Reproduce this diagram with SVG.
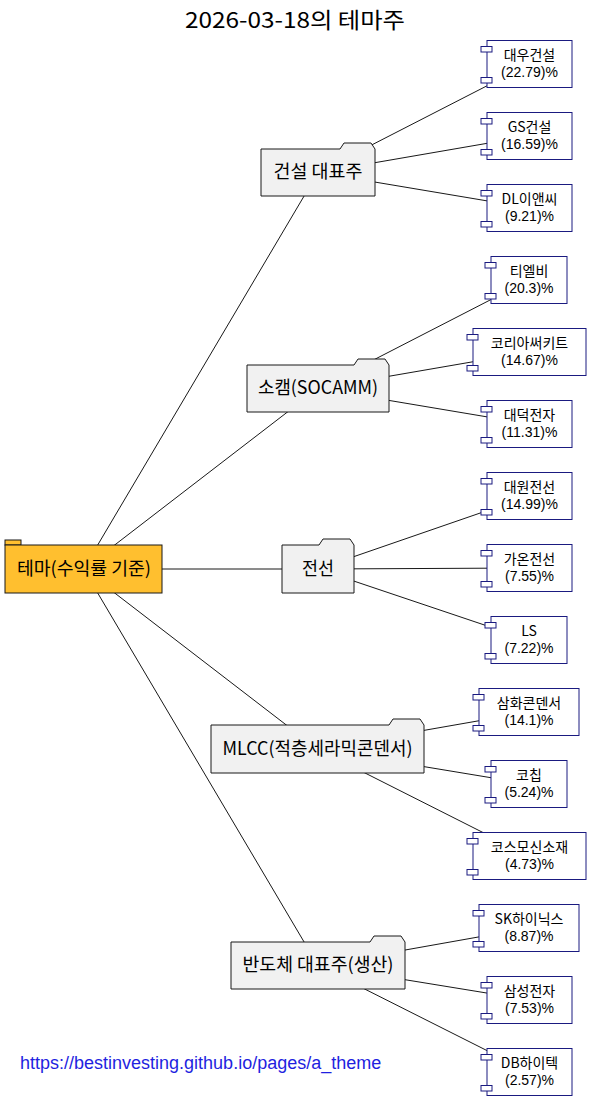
<svg xmlns="http://www.w3.org/2000/svg" width="591" height="1103" viewBox="0 0 591 1103">
<style>
.bg{fill:#FFFFFF}
.edge{stroke:#181818;stroke-width:1;fill:none}
.folder{fill:#F1F1F1;stroke:#181818;stroke-width:1}
.root{fill:#FFBF2F;stroke:#181818;stroke-width:1}
.leaf{fill:#FFFFFF;stroke:#1A1A80;stroke-width:1}
.t{font-family:"Noto Sans CJK KR","Noto Sans",sans-serif;fill:#000000;text-anchor:middle}
.ft{font-size:18px}
.lt{font-size:14px}
.pt{font-family:"Liberation Sans",Arial,sans-serif;font-size:14px;fill:#000000;text-anchor:middle}
.url{font-family:"Liberation Sans",Arial,sans-serif;font-size:18px;fill:#1F1FE0}
</style>
<rect class="bg" x="0" y="0" width="591" height="1103"/>
<text class="t" x="295" y="28" font-size="22" textLength="220" lengthAdjust="spacingAndGlyphs">2026-03-18의 테마주</text>
<g id="connectors">
<line class="edge" x1="83.5" y1="569" x2="318" y2="172.5"/>
<line class="edge" x1="83.5" y1="569" x2="318" y2="388.5"/>
<line class="edge" x1="83.5" y1="569" x2="318" y2="569"/>
<line class="edge" x1="83.5" y1="569" x2="317.5" y2="749"/>
<line class="edge" x1="83.5" y1="569" x2="318" y2="965.5"/>
<line class="edge" x1="318" y1="172.5" x2="529.5" y2="64"/>
<line class="edge" x1="318" y1="172.5" x2="529.5" y2="136"/>
<line class="edge" x1="318" y1="172.5" x2="529.5" y2="208"/>
<line class="edge" x1="318" y1="388.5" x2="529" y2="280"/>
<line class="edge" x1="318" y1="388.5" x2="529.5" y2="352"/>
<line class="edge" x1="318" y1="388.5" x2="529.5" y2="424"/>
<line class="edge" x1="318" y1="569" x2="529.5" y2="496"/>
<line class="edge" x1="318" y1="569" x2="529.5" y2="568"/>
<line class="edge" x1="318" y1="569" x2="529" y2="640"/>
<line class="edge" x1="317.5" y1="749" x2="529" y2="712"/>
<line class="edge" x1="317.5" y1="749" x2="529" y2="784"/>
<line class="edge" x1="317.5" y1="749" x2="529.5" y2="856"/>
<line class="edge" x1="318" y1="965.5" x2="529" y2="928"/>
<line class="edge" x1="318" y1="965.5" x2="529.5" y2="1000"/>
<line class="edge" x1="318" y1="965.5" x2="529.5" y2="1072"/>
</g>
<g id="root">
<rect class="root" x="5" y="540" width="16" height="5"/>
<rect class="root" x="5" y="545" width="157" height="48"/>
<text class="t ft" x="84" y="575" textLength="134" lengthAdjust="spacingAndGlyphs">테마(수익률 기준)</text>
</g>
<g id="f1">
<path class="folder" d="M261 149 L340 149 L344 143 L371 143 L375 149 L375 196 L261 196 Z"/>
<text class="t ft" x="318" y="178" textLength="89" lengthAdjust="spacingAndGlyphs">건설 대표주</text>
</g>
<g id="f2">
<path class="folder" d="M247 365 L354 365 L358 359 L385 359 L389 365 L389 412 L247 412 Z"/>
<text class="t ft" x="318" y="394" textLength="120" lengthAdjust="spacingAndGlyphs">소캠(SOCAMM)</text>
</g>
<g id="f3">
<path class="folder" d="M282 545 L319 545 L323 539 L350 539 L354 545 L354 593 L282 593 Z"/>
<text class="t ft" x="318" y="575" textLength="32" lengthAdjust="spacingAndGlyphs">전선</text>
</g>
<g id="f4">
<path class="folder" d="M211 725 L389 725 L393 719 L420 719 L424 725 L424 773 L211 773 Z"/>
<text class="t ft" x="317.5" y="755" textLength="190" lengthAdjust="spacingAndGlyphs">MLCC(적층세라믹콘덴서)</text>
</g>
<g id="f5">
<path class="folder" d="M231 942 L370 942 L374 936 L401 936 L405 942 L405 989 L231 989 Z"/>
<text class="t ft" x="318" y="971" textLength="151" lengthAdjust="spacingAndGlyphs">반도체 대표주(생산)</text>
</g>
<g id="l1"><rect class="leaf" x="487" y="40.5" width="85" height="47"/><rect class="leaf" x="481" y="46.5" width="11" height="5.5"/><rect class="leaf" x="481" y="77.5" width="11" height="5.5"/><text class="t lt" x="529.5" y="60">대우건설</text><text class="pt" x="529.5" y="77">(22.79)%</text></g>
<g id="l2"><rect class="leaf" x="487" y="112.5" width="85" height="47"/><rect class="leaf" x="481" y="118.5" width="11" height="5.5"/><rect class="leaf" x="481" y="149.5" width="11" height="5.5"/><text class="t lt" x="529.5" y="132">GS건설</text><text class="pt" x="529.5" y="149">(16.59)%</text></g>
<g id="l3"><rect class="leaf" x="487" y="184.5" width="85" height="47"/><rect class="leaf" x="481" y="190.5" width="11" height="5.5"/><rect class="leaf" x="481" y="221.5" width="11" height="5.5"/><text class="t lt" x="529.5" y="204">DL이앤씨</text><text class="pt" x="529.5" y="221">(9.21)%</text></g>
<g id="l4"><rect class="leaf" x="491" y="256.5" width="76" height="47"/><rect class="leaf" x="485" y="262.5" width="11" height="5.5"/><rect class="leaf" x="485" y="293.5" width="11" height="5.5"/><text class="t lt" x="529" y="276">티엘비</text><text class="pt" x="529" y="293">(20.3)%</text></g>
<g id="l5"><rect class="leaf" x="473" y="328.5" width="113" height="47"/><rect class="leaf" x="467" y="334.5" width="11" height="5.5"/><rect class="leaf" x="467" y="365.5" width="11" height="5.5"/><text class="t lt" x="529.5" y="348">코리아써키트</text><text class="pt" x="529.5" y="365">(14.67)%</text></g>
<g id="l6"><rect class="leaf" x="487" y="400.5" width="85" height="47"/><rect class="leaf" x="481" y="406.5" width="11" height="5.5"/><rect class="leaf" x="481" y="437.5" width="11" height="5.5"/><text class="t lt" x="529.5" y="420">대덕전자</text><text class="pt" x="529.5" y="437">(11.31)%</text></g>
<g id="l7"><rect class="leaf" x="487" y="472.5" width="85" height="47"/><rect class="leaf" x="481" y="478.5" width="11" height="5.5"/><rect class="leaf" x="481" y="509.5" width="11" height="5.5"/><text class="t lt" x="529.5" y="492">대원전선</text><text class="pt" x="529.5" y="509">(14.99)%</text></g>
<g id="l8"><rect class="leaf" x="487" y="544.5" width="85" height="47"/><rect class="leaf" x="481" y="550.5" width="11" height="5.5"/><rect class="leaf" x="481" y="581.5" width="11" height="5.5"/><text class="t lt" x="529.5" y="564">가온전선</text><text class="pt" x="529.5" y="581">(7.55)%</text></g>
<g id="l9"><rect class="leaf" x="491" y="616.5" width="76" height="47"/><rect class="leaf" x="485" y="622.5" width="11" height="5.5"/><rect class="leaf" x="485" y="653.5" width="11" height="5.5"/><text class="t lt" x="529" y="636">LS</text><text class="pt" x="529" y="653">(7.22)%</text></g>
<g id="l10"><rect class="leaf" x="479" y="688.5" width="100" height="47"/><rect class="leaf" x="473" y="694.5" width="11" height="5.5"/><rect class="leaf" x="473" y="725.5" width="11" height="5.5"/><text class="t lt" x="529" y="708">삼화콘덴서</text><text class="pt" x="529" y="725">(14.1)%</text></g>
<g id="l11"><rect class="leaf" x="491" y="760.5" width="76" height="47"/><rect class="leaf" x="485" y="766.5" width="11" height="5.5"/><rect class="leaf" x="485" y="797.5" width="11" height="5.5"/><text class="t lt" x="529" y="780">코칩</text><text class="pt" x="529" y="797">(5.24)%</text></g>
<g id="l12"><rect class="leaf" x="473" y="832.5" width="113" height="47"/><rect class="leaf" x="467" y="838.5" width="11" height="5.5"/><rect class="leaf" x="467" y="869.5" width="11" height="5.5"/><text class="t lt" x="529.5" y="852">코스모신소재</text><text class="pt" x="529.5" y="869">(4.73)%</text></g>
<g id="l13"><rect class="leaf" x="479" y="904.5" width="100" height="47"/><rect class="leaf" x="473" y="910.5" width="11" height="5.5"/><rect class="leaf" x="473" y="941.5" width="11" height="5.5"/><text class="t lt" x="529" y="924">SK하이닉스</text><text class="pt" x="529" y="941">(8.87)%</text></g>
<g id="l14"><rect class="leaf" x="487" y="976.5" width="85" height="47"/><rect class="leaf" x="481" y="982.5" width="11" height="5.5"/><rect class="leaf" x="481" y="1013.5" width="11" height="5.5"/><text class="t lt" x="529.5" y="996">삼성전자</text><text class="pt" x="529.5" y="1013">(7.53)%</text></g>
<g id="l15"><rect class="leaf" x="487" y="1048.5" width="85" height="47"/><rect class="leaf" x="481" y="1054.5" width="11" height="5.5"/><rect class="leaf" x="481" y="1085.5" width="11" height="5.5"/><text class="t lt" x="529.5" y="1068">DB하이텍</text><text class="pt" x="529.5" y="1085">(2.57)%</text></g>
<text class="url" x="20" y="1069">https://bestinvesting.github.io/pages/a_theme</text>
</svg>
